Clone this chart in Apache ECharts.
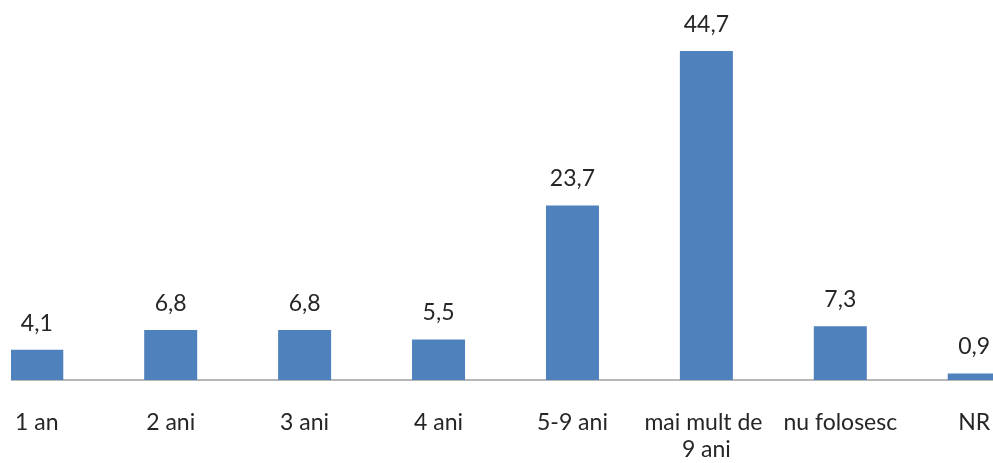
<!DOCTYPE html>
<html>
<head>
<meta charset="utf-8">
<script src="https://cdn.jsdelivr.net/npm/echarts@6/dist/echarts.min.js"></script>
<style>
  html, body { margin: 0; padding: 0; background: #fff; overflow: hidden; }
  #wrap { position: relative; width: 993px; height: 463px; overflow: hidden; clip-path: inset(0 0 0 11px); }
  #chart { position: absolute; left: -32px; top: 0; width: 1075px; height: 463px; }
</style>
</head>
<body>
<div id="wrap"><div id="chart"></div></div>
<script>
const categories = ['1 an', '2 ani', '3 ani', '4 ani', '5-9 ani', 'mai mult de 9 ani', 'nu folosesc', 'NR'];
const values = [4.1, 6.8, 6.8, 5.5, 23.7, 44.7, 7.3, 0.9];

const chart = echarts.init(document.getElementById('chart'), null, { renderer: 'canvas' });
const font = 'Lato, "Open Sans", sans-serif';
chart.setOption({
  animation: false,
  backgroundColor: '#ffffff',
  grid: { left: 0, right: 0, top: 12, bottom: 83, containLabel: false },
  xAxis: {
    type: 'category',
    data: categories,
    axisLine: { show: true, lineStyle: { color: '#a0a0a0', width: 1.5 } },
    axisTick: { show: false },
    axisLabel: {
      interval: 0,
      margin: 29,
      color: '#262626',
      fontFamily: font,
      fontSize: 23,
      lineHeight: 27,
      width: 132,
      overflow: 'break'
    },
    splitLine: { show: false }
  },
  yAxis: {
    type: 'value',
    min: 0,
    max: 50,
    show: false,
    splitLine: { show: false }
  },
  series: [{
    type: 'bar',
    data: values,
    barWidth: 53,
    itemStyle: { color: '#4F81BD' },
    label: {
      show: true,
      position: 'top',
      distance: 13,
      color: '#262626',
      fontFamily: font,
      fontSize: 23,
      lineHeight: 27,
      formatter: p => String(p.value).replace('.', ',')
    }
  }]
});
</script>
</body>
</html>
